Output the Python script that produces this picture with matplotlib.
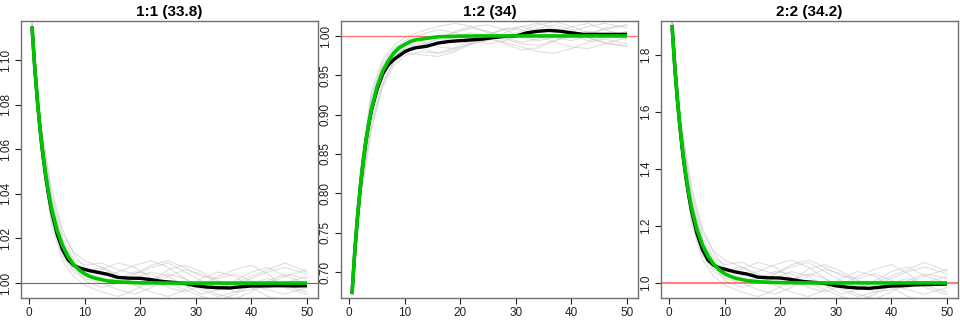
import numpy as np
import matplotlib
matplotlib.use("Agg")
import matplotlib.pyplot as plt

plt.rcParams['font.family'] = ['Liberation Sans', 'DejaVu Sans']

# time grid for the mean / expected curves
x = [0.5, 1, 1.5, 2, 2.5, 3, 3.5, 4, 5, 6, 7, 8, 9, 10, 11, 12, 14, 16, 18, 20,
     22, 24, 26, 28, 30, 32, 34, 36, 38, 40, 42, 44, 46, 48, 50]
# coarser grid for the individual runs
gx = [0.5, 2, 4, 6, 8, 10, 13, 16, 19, 22, 25, 28, 31, 34, 37, 40, 43, 46, 50]

titles = ["1:1 (33.8)", "1:2 (34)", "2:2 (34.2)"]

# expected (green) curves
green_11 = [1.115, 1.0965, 1.0811, 1.0681, 1.0572, 1.0480, 1.0403, 1.0338, 1.0238, 1.0168,
            1.0118, 1.0083, 1.0059, 1.0041, 1.0029, 1.0021, 1.0010, 1.0005, 1.0003, 1.0001,
            1.0001, 1.0, 1.0, 1.0, 1.0, 1.0, 1.0, 1.0, 1.0, 1.0, 1.0, 1.0, 1.0, 1.0, 1.0]
green_12 = [0.672, 0.726, 0.771, 0.809, 0.840, 0.867, 0.888, 0.907, 0.935, 0.955,
            0.968, 0.978, 0.985, 0.989, 0.993, 0.995, 0.997, 0.999, 0.9994, 0.9997,
            0.9999, 1.0, 1.0, 1.0, 1.0, 1.0, 1.0, 1.0, 1.0, 1.0, 1.0, 1.0, 1.0, 1.0, 1.0]
green_22 = [1.905, 1.759, 1.638, 1.536, 1.450, 1.377, 1.317, 1.266, 1.187, 1.132,
            1.093, 1.066, 1.046, 1.032, 1.023, 1.016, 1.008, 1.004, 1.002, 1.001,
            1.0005, 1.0, 1.0, 1.0, 1.0, 1.0, 1.0, 1.0, 1.0, 1.0, 1.0, 1.0, 1.0, 1.0, 1.0]

# mean of the runs (black)
black_11 = [1.115, 1.0963, 1.0808, 1.0677, 1.0566, 1.0472, 1.0393, 1.0326, 1.0222, 1.0150,
            1.0105, 1.0080, 1.0068, 1.0061, 1.0055, 1.0050, 1.0040, 1.0025, 1.0022, 1.0021,
            1.0015, 1.0007, 1.0003, 0.9998, 0.9988, 0.9982, 0.9979, 0.9978, 0.9983, 0.9987,
            0.9987, 0.9988, 0.9988, 0.9987, 0.9988]
black_12 = [0.672, 0.726, 0.771, 0.808, 0.839, 0.866, 0.887, 0.905, 0.932, 0.951,
            0.963, 0.970, 0.975, 0.980, 0.983, 0.985, 0.987, 0.991, 0.993, 0.994,
            0.995, 0.996, 0.998, 0.9995, 1.0, 1.004, 1.006, 1.007, 1.006, 1.004,
            1.002, 1.002, 1.002, 1.002, 1.002]
black_22 = [1.905, 1.757, 1.635, 1.532, 1.443, 1.370, 1.308, 1.255, 1.173, 1.116,
            1.080, 1.062, 1.053, 1.048, 1.043, 1.038, 1.031, 1.020, 1.018, 1.017,
            1.012, 1.005, 1.002, 0.998, 0.990, 0.985, 0.982, 0.981, 0.985, 0.989,
            0.990, 0.993, 0.994, 0.995, 0.996]

# individual runs (gray)
gray_11 = [
    [1.116, 1.070, 1.038, 1.020, 1.011, 1.008, 1.009, 1.006, 1.004, 1.007, 1.009, 1.005, 1.001, 0.998, 1.000, 1.003, 1.006, 1.009, 1.005],
    [1.114, 1.064, 1.028, 1.012, 1.005, 1.002, 1.000, 0.997, 0.995, 0.998, 1.003, 1.006, 1.004, 1.000, 0.996, 0.997, 1.001, 1.004, 1.002],
    [1.117, 1.073, 1.042, 1.024, 1.013, 1.007, 1.003, 1.005, 1.008, 1.010, 1.007, 1.002, 0.997, 0.994, 0.996, 1.000, 1.002, 0.999, 0.996],
    [1.115, 1.066, 1.031, 1.014, 1.007, 1.004, 1.006, 1.009, 1.007, 1.002, 0.998, 0.996, 0.999, 1.003, 1.006, 1.008, 1.004, 0.998, 0.995],
    [1.113, 1.062, 1.026, 1.010, 1.003, 0.999, 0.996, 0.994, 0.997, 1.001, 1.004, 1.002, 0.998, 0.995, 0.993, 0.996, 1.000, 1.003, 1.006],
    [1.116, 1.069, 1.035, 1.018, 1.010, 1.006, 1.002, 1.000, 1.002, 1.005, 1.003, 0.999, 0.995, 0.997, 1.001, 1.005, 1.007, 1.003, 1.000],
    [1.115, 1.067, 1.033, 1.017, 1.009, 1.005, 1.007, 1.004, 0.999, 0.996, 0.994, 0.997, 1.002, 1.005, 1.003, 0.998, 0.994, 0.992, 0.993],
    [1.117, 1.071, 1.040, 1.022, 1.014, 1.010, 1.007, 1.003, 1.000, 1.001, 1.006, 1.008, 1.005, 1.001, 0.999, 1.002, 1.005, 1.007, 1.004],
    [1.114, 1.065, 1.030, 1.013, 1.006, 1.003, 1.001, 1.002, 1.005, 1.004, 1.000, 0.997, 0.994, 0.992, 0.995, 0.999, 0.997, 0.995, 0.998],
    [1.116, 1.068, 1.036, 1.019, 1.008, 1.001, 0.998, 1.000, 1.004, 1.008, 1.010, 1.007, 1.003, 1.002, 1.004, 1.001, 0.998, 1.000, 1.003],
]
gray_12 = [
    [0.672, 0.800, 0.900, 0.950, 0.972, 0.984, 0.990, 0.996, 1.004, 1.010, 1.006, 0.998, 0.992, 0.996, 1.004, 1.012, 1.016, 1.008, 1.000],
    [0.675, 0.820, 0.920, 0.962, 0.982, 0.994, 1.002, 1.008, 1.004, 0.996, 0.990, 0.994, 1.002, 1.010, 1.014, 1.008, 0.998, 0.990, 0.988],
    [0.670, 0.790, 0.880, 0.935, 0.962, 0.975, 0.980, 0.978, 0.985, 0.995, 1.003, 1.008, 1.012, 1.006, 0.998, 0.994, 1.000, 1.010, 1.014],
    [0.674, 0.810, 0.910, 0.955, 0.975, 0.983, 0.985, 0.992, 1.000, 1.004, 1.000, 0.990, 0.982, 0.985, 0.994, 1.002, 1.006, 1.002, 0.996],
    [0.676, 0.830, 0.930, 0.970, 0.988, 0.998, 1.006, 1.012, 1.016, 1.012, 1.004, 1.000, 1.006, 1.014, 1.018, 1.012, 1.004, 1.008, 1.014],
    [0.671, 0.800, 0.890, 0.940, 0.966, 0.978, 0.976, 0.974, 0.980, 0.990, 0.996, 0.992, 0.986, 0.980, 0.978, 0.984, 0.992, 0.996, 0.990],
    [0.673, 0.810, 0.905, 0.952, 0.978, 0.990, 0.996, 1.000, 0.996, 0.990, 0.994, 1.004, 1.012, 1.016, 1.010, 1.000, 0.994, 0.998, 1.006],
    [0.674, 0.815, 0.915, 0.958, 0.980, 0.988, 0.992, 0.986, 0.984, 0.990, 1.000, 1.010, 1.008, 1.000, 0.992, 0.986, 0.984, 0.990, 0.998],
    [0.672, 0.795, 0.885, 0.938, 0.968, 0.980, 0.988, 0.996, 1.006, 1.012, 1.014, 1.008, 0.998, 0.994, 0.998, 1.006, 1.012, 1.016, 1.010],
    [0.675, 0.825, 0.925, 0.966, 0.984, 0.992, 0.984, 0.978, 0.982, 0.992, 0.998, 0.996, 0.990, 0.988, 0.994, 1.000, 0.998, 0.992, 0.986],
]
gray_22 = [
    [1.928, 1.560, 1.304, 1.160, 1.088, 1.064, 1.072, 1.048, 1.032, 1.056, 1.072, 1.040, 1.008, 0.984, 1.000, 1.024, 1.048, 1.072, 1.040],
    [1.912, 1.512, 1.224, 1.096, 1.040, 1.016, 1.000, 0.976, 0.960, 0.984, 1.024, 1.048, 1.032, 1.000, 0.968, 0.976, 1.008, 1.032, 1.016],
    [1.936, 1.584, 1.336, 1.192, 1.104, 1.056, 1.024, 1.040, 1.064, 1.080, 1.056, 1.016, 0.976, 0.952, 0.968, 1.000, 1.016, 0.992, 0.968],
    [1.920, 1.528, 1.248, 1.112, 1.056, 1.032, 1.048, 1.072, 1.056, 1.016, 0.984, 0.968, 0.992, 1.024, 1.048, 1.064, 1.032, 0.984, 0.960],
    [1.904, 1.496, 1.208, 1.080, 1.024, 0.992, 0.968, 0.952, 0.976, 1.008, 1.032, 1.016, 0.984, 0.960, 0.944, 0.968, 1.000, 1.024, 1.048],
    [1.928, 1.552, 1.280, 1.144, 1.080, 1.048, 1.016, 1.000, 1.016, 1.040, 1.024, 0.992, 0.960, 0.976, 1.008, 1.040, 1.056, 1.024, 1.000],
    [1.920, 1.536, 1.264, 1.136, 1.072, 1.040, 1.056, 1.032, 0.992, 0.968, 0.952, 0.976, 1.016, 1.040, 1.024, 0.984, 0.952, 0.936, 0.944],
    [1.936, 1.568, 1.320, 1.176, 1.112, 1.080, 1.056, 1.024, 1.000, 1.008, 1.048, 1.064, 1.040, 1.008, 0.992, 1.016, 1.040, 1.056, 1.032],
    [1.912, 1.520, 1.240, 1.104, 1.048, 1.024, 1.008, 1.016, 1.040, 1.032, 1.000, 0.976, 0.952, 0.936, 0.960, 0.992, 0.976, 0.960, 0.984],
    [1.928, 1.544, 1.288, 1.152, 1.064, 1.008, 0.984, 1.000, 1.032, 1.064, 1.080, 1.056, 1.024, 1.016, 1.032, 1.008, 0.984, 1.000, 1.024],
]

yticks_11 = [1.00, 1.02, 1.04, 1.06, 1.08, 1.10]
yticks_12 = [0.70, 0.75, 0.80, 0.85, 0.90, 0.95, 1.00]
yticks_22 = [1.0, 1.2, 1.4, 1.6, 1.8]
xticks = [0, 10, 20, 30, 40, 50]

panels = [
    (titles[0], green_11, black_11, gray_11, yticks_11, "%.2f", (0.9933, 1.1175), '#e03a3a', 0.8),
    (titles[1], green_12, black_12, gray_12, yticks_12, "%.2f", (0.667, 1.019), '#ff7070', 0.9),
    (titles[2], green_22, black_22, gray_22, yticks_22, "%.1f", (0.947, 1.919), '#ff7a7a', 1.4),
]

fig = plt.figure(figsize=(9.6, 3.2), dpi=100)
lefts = [21, 341, 661]
for left, (title, green, black, grays, yt, fmt, ylim, refcol, reflw) in zip(lefts, panels):
    ax = fig.add_axes([left / 960, 22 / 320, 297 / 960, 277 / 320])
    for g in grays:
        ax.plot(gx, g, color='#c0c0c0', lw=0.8, alpha=0.5, zorder=1)
    ax.axhline(1.0, color=refcol, lw=reflw, zorder=2)
    ax.plot(x, black, color='black', lw=2.4, zorder=3, solid_capstyle='butt')
    ax.plot(x, green, color='#00c400', lw=2.6, zorder=4, solid_capstyle='butt')

    ax.set_xlim(-1.48, 51.98)
    ax.set_ylim(*ylim)
    ax.set_xticks(xticks)
    ax.set_yticks(yt)
    ax.set_yticklabels([fmt % v for v in yt], rotation=90, va='center')
    ax.tick_params(length=4, width=0.8, labelsize=8.5, pad=2.5, colors='#222222')
    ax.tick_params(axis='x', pad=2.5)
    for s in ax.spines.values():
        s.set_color('#707070')
        s.set_linewidth(1.0)
    ax.set_title(title, fontsize=11, fontweight='bold', pad=3.5)

fig.savefig("out.png", dpi=100)
